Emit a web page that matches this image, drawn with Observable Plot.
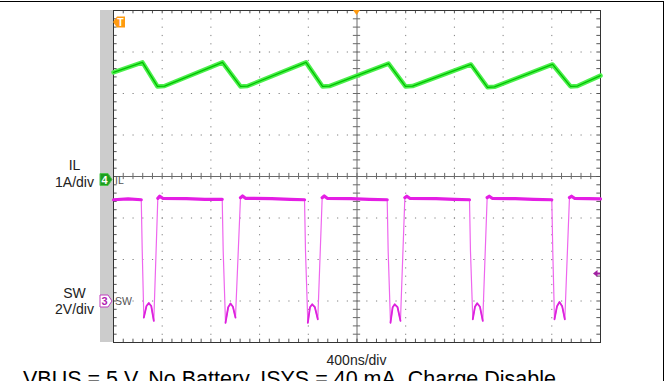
<!DOCTYPE html>
<html><head><meta charset="utf-8">
<script src="https://cdn.jsdelivr.net/npm/d3@7"></script>
<script src="https://cdn.jsdelivr.net/npm/@observablehq/plot@0.6"></script>
<style>
html,body{margin:0;padding:0;background:#fff;overflow:hidden;}
#wrap{position:relative;width:669px;height:381px;overflow:hidden;}
#box{position:absolute;left:-10px;top:1px;width:673.5px;height:420px;border-top:1.5px solid #000;border-right:1.5px solid #000;box-sizing:border-box;}
svg{display:block;}
</style></head><body><div id="wrap"><div id="box"></div></div>
<script>
// ---- data (time in ns, IL in A, SW in V) ----
const ilTime = [-2000, -1762, -1639, -1581, -1105, -957, -899, -419, -283, -226, 259, 398, 456, 936, 1072, 1129, 1606, 1754, 1811, 2000];
const ilAmps = [2.51, 2.75, 2.17, 2.18, 2.75, 2.17, 2.18, 2.75, 2.17, 2.18, 2.72, 2.17, 2.18, 2.70, 2.15, 2.16, 2.70, 2.17, 2.18, 2.43];

const swTime = [-2000, -1880, -1772, -1764, -1751, -1729, -1710, -1690, -1669, -1636, -1620, -1596, -1400, -1250,
  -1107, -1099, -1080, -1058, -1039, -1019, -998, -957, -940, -916, -700, -550,
  -431, -423, -404, -386, -368, -346, -322, -286, -269, -245, -50, 100,
  248, 256, 275, 293, 310, 333, 357, 393, 409, 433, 650, 800,
  924, 932, 951, 969, 987, 1010, 1033, 1069, 1086, 1110, 1300, 1450,
  1600, 1608, 1622, 1643, 1663, 1685, 1707, 1745, 1762, 1786, 1900, 2000];
const swVolts = [4.88, 4.92, 4.88, 2.40, -0.80, -0.24, -0.10, -0.24, -0.96, 4.95, 5.05, 4.95, 4.93, 4.90,
  4.90, 2.40, -1.05, -0.30, -0.12, -0.28, -0.80, 4.98, 5.06, 4.95, 4.93, 4.90,
  4.88, 2.40, -1.05, -0.30, -0.16, -0.30, -0.88, 4.98, 5.06, 4.95, 4.93, 4.90,
  4.88, 2.40, -1.05, -0.30, -0.16, -0.30, -0.96, 4.98, 5.05, 4.95, 4.93, 4.90,
  4.88, 2.40, -0.88, -0.28, -0.11, -0.28, -0.96, 4.98, 5.05, 4.95, 4.93, 4.90,
  4.88, 2.40, -0.88, -0.25, -0.05, -0.25, -0.88, 4.98, 5.05, 4.95, 4.93, 4.92];

const channelNames = ["IL", "SW"];
const channelScales = ["1A/div", "2V/div"];
const channelNumbers = ["4", "3"];
const timeLabel = "400ns/div";
const caption = "VBUS = 5 V, No Battery, ISYS = 40 mA, Charge Disable";
const ilPerDiv = 1, swPerDiv = 2;       // A/div, V/div
const ilPos = 0, swPos = -3;            // ground position in divisions
const swTrigLevel = 1.3;                // V

// ---- layout ----
const W = 669, H = 381;
const ilData = ilTime.map((t, i) => ({t, a: ilAmps[i], v: ilAmps[i] / ilPerDiv + ilPos}));
const swData = swTime.map((t, i) => ({t, volts: swVolts[i], v: swVolts[i] / swPerDiv + swPos}));
const minorX = d3.range(-2000, 2000.1, 80);
const minorY = d3.range(-4, 4.01, 0.2);
const majorX = [-1600, -1200, -800, -400, 400, 800, 1200, 1600];
const majorY = [-3, -2, -1, 1, 2, 3];

const plot = Plot.plot({
  width: W, height: H,
  marginLeft: 113, marginRight: 69, marginTop: 10, marginBottom: 39,
  x: {domain: [-2000, 2000], axis: null},
  y: {domain: [-4, 4], axis: null},
  style: {background: "transparent"},
  marks: [
    Plot.ruleY(majorY, {stroke: "#808080", strokeDasharray: "1.2,8.54"}),
    Plot.ruleX(majorX, {stroke: "#808080", strokeDasharray: "1.2,7.1"}),
    Plot.ruleX([0], {stroke: "#6a6a6a"}),
    Plot.ruleY([0], {stroke: "#6a6a6a"}),
    Plot.ruleX(minorX, {x: d => d, y1: -0.075, y2: 0.075, stroke: "#6a6a6a"}),
    Plot.ruleY(minorY, {y: d => d, x1: -30, x2: 30, stroke: "#6a6a6a"}),
    Plot.ruleX(minorX, {x: d => d, y1: 4, y2: 3.92, stroke: "#555"}),
    Plot.ruleX(minorX, {x: d => d, y1: -4, y2: -3.92, stroke: "#555"}),
    Plot.ruleY(minorY, {y: d => d, x1: -2000, x2: -1970, stroke: "#555"}),
    Plot.ruleY(minorY, {y: d => d, x1: 2000, x2: 1970, stroke: "#555"}),
    Plot.frame({stroke: "#333"}),
    Plot.line(ilData, {x: "t", y: "v", stroke: "#4cf04c", strokeWidth: 4.5}),
    Plot.line(ilData, {x: "t", y: "v", stroke: "#00c000", strokeWidth: 1.3}),
    Plot.line(swData, {x: "t", y: "v", stroke: "#ee66ee", strokeWidth: 1.2}),
    Plot.line(swData, {x: "t", y: d => d.volts > 4 ? d.v : NaN, stroke: "#e41ee4", strokeWidth: 3.2}),
    Plot.line(swData, {x: "t", y: d => d.volts < 1 ? d.v : NaN, stroke: "#dd22dd", strokeWidth: 1.8})
  ]
});
document.getElementById("wrap").appendChild(plot);

// ---- decorations positioned from the scales ----
const sx = plot.scale("x"), sy = plot.scale("y");
const X = v => sx.apply(v), Y = v => sy.apply(v);
const svg = d3.select(plot);
const L = X(-2000), R = X(2000), T = Y(4), B = Y(-4);
svg.insert("rect", ":first-child").attr("x", L - 13).attr("y", T).attr("width", 13).attr("height", B - T).attr("fill", "#cccccc");

const font = "'Liberation Sans', Arial, sans-serif";
const g = svg.append("g").attr("font-family", font).attr("text-anchor", "start");

// channel badges
function badge(cy, fill, stroke, txtFill, num, name) {
  g.append("path").attr("d", `M${L - 13},${cy - 6} h8 l4,6 l-4,6 h-8 z`)
    .attr("fill", fill).attr("stroke", stroke).attr("stroke-width", 1);
  g.append("text").attr("x", L - 8.5).attr("y", cy + 4).attr("text-anchor", "middle")
    .attr("font-size", 11).attr("font-weight", "bold").attr("fill", txtFill).text(num);
  g.append("text").attr("x", L + 2).attr("y", cy + 4).attr("text-anchor", "start").attr("font-size", 10.5)
    .attr("font-family", "'Liberation Sans Narrow', 'Liberation Sans', sans-serif").attr("fill", "#555").text(name);
}
badge(Y(ilPos) + 3.5, "#1e9e1e", "#4cc44c", "#fff", channelNumbers[0], channelNames[0]);
badge(Y(swPos) + 0.5, "#fff", "#c03cc0", "#b020b0", channelNumbers[1], channelNames[1]);

// trigger badge "T"
g.append("path").attr("d", `M${L},${T + 12} l4,-5.5 h8 v11 h-8 z`).attr("fill", "#ff9a10");
g.append("text").attr("x", L + 7.5).attr("y", T + 16).attr("text-anchor", "middle")
  .attr("font-size", 10.5).attr("font-weight", "bold").attr("fill", "#fff").text("T");
// trigger position
g.append("path").attr("d", `M${X(0) - 3.5},${T} h7 l-3.5,5 z`).attr("fill", "#ff9a10");
// trigger level
const ty = Y(swTrigLevel / swPerDiv + swPos);
g.append("path").attr("d", `M${R - 7},${ty} l4.5,-3.5 v7 z`).attr("fill", "#a020a0");
g.append("line").attr("x1", R - 3).attr("x2", R).attr("y1", ty).attr("y2", ty).attr("stroke", "#a020a0").attr("stroke-width", 2);

// channel labels
const lx = L - 38.5;
g.append("text").attr("x", lx).attr("y", Y(ilPos) - 6).attr("text-anchor", "middle").attr("font-size", 14).attr("fill", "#222").text(channelNames[0]);
g.append("text").attr("x", lx).attr("y", Y(ilPos) + 11).attr("text-anchor", "middle").attr("font-size", 14).attr("fill", "#222").text(channelScales[0]);
g.append("text").attr("x", lx).attr("y", Y(swPos) - 2.5).attr("text-anchor", "middle").attr("font-size", 14).attr("fill", "#222").text(channelNames[1]);
g.append("text").attr("x", lx).attr("y", Y(swPos) + 13.5).attr("text-anchor", "middle").attr("font-size", 14).attr("fill", "#222").text(channelScales[1]);

// time base and caption
g.append("text").attr("x", X(0)).attr("y", B + 23).attr("text-anchor", "middle").attr("font-size", 14).attr("fill", "#222").text(timeLabel);
g.append("text").attr("x", 23).attr("y", B + 43.5).attr("text-anchor", "start").attr("font-size", 21.5).attr("fill", "#000").text(caption);
</script>
</body></html>
